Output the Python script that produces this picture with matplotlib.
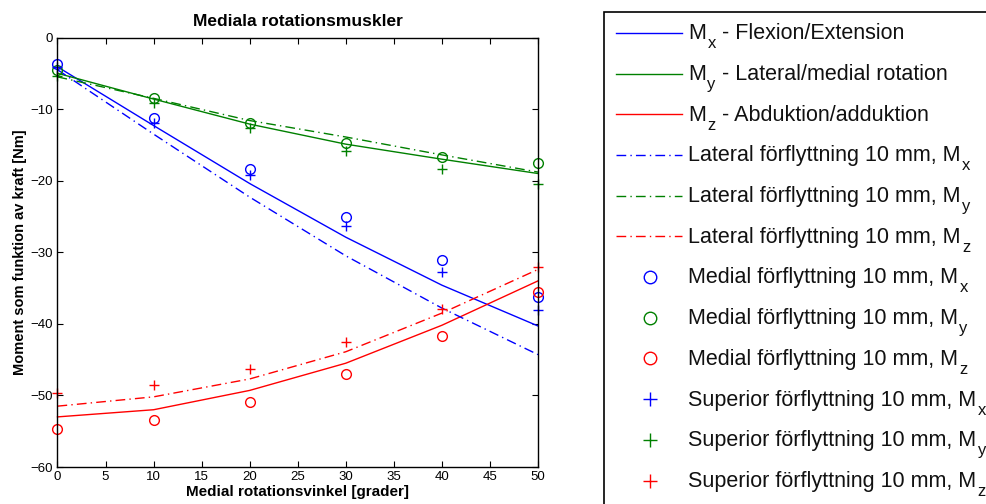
import matplotlib
matplotlib.use("Agg")
from matplotlib import pyplot as plt
from matplotlib.lines import Line2D
from matplotlib.patches import Rectangle

plt.rcParams['font.family'] = ['Liberation Sans', 'DejaVu Sans']

vinkel = [0, 10, 20, 30, 40, 50]

# basfall
mx = [-4.1, -12.3, -20.4, -27.9, -34.6, -40.3]
my = [-5.0, -8.6, -12.1, -14.9, -17.0, -19.0]
mz = [-53.0, -52.0, -49.3, -45.5, -40.2, -34.0]

# lateral förflyttning
lat_mx = [-4.5, -13.5, -22.3, -30.5, -37.8, -44.3]
lat_my = [-5.5, -8.5, -11.6, -13.9, -16.4, -18.8]
lat_mz = [-51.5, -50.2, -47.7, -43.9, -38.5, -32.4]

# medial förflyttning
med_mx = [-3.7, -11.3, -18.4, -25.1, -31.1, -36.2]
med_my = [-4.6, -8.4, -11.9, -14.7, -16.7, -17.5]
med_mz = [-54.7, -53.5, -50.9, -47.0, -41.7, -35.5]

# superior förflyttning
sup_mx = [-4.1, -11.9, -19.2, -26.4, -32.7, -38.0]
sup_my = [-5.4, -9.2, -12.6, -15.8, -18.4, -20.4]
sup_mz = [-49.7, -48.6, -46.3, -42.6, -37.9, -32.1]

# legend texts: (before subscript, subscript, after subscript)
labels = [
    ("M", "x", " - Flexion/Extension"),
    ("M", "y", " - Lateral/medial rotation"),
    ("M", "z", " - Abduktion/adduktion"),
    ("Lateral förflyttning 10 mm, M", "x", ""),
    ("Lateral förflyttning 10 mm, M", "y", ""),
    ("Lateral förflyttning 10 mm, M", "z", ""),
    ("Medial förflyttning 10 mm, M", "x", ""),
    ("Medial förflyttning 10 mm, M", "y", ""),
    ("Medial förflyttning 10 mm, M", "z", ""),
    ("Superior förflyttning 10 mm, M", "x", ""),
    ("Superior förflyttning 10 mm, M", "y", ""),
    ("Superior förflyttning 10 mm, M", "z", ""),
]

blue = "#0000ff"
green = "#008000"
red = "#ff0000"
dd = (7, 3, 1, 3)

W, H = 987, 504
fig = plt.figure(figsize=(W / 100, H / 100), dpi=100)
ax = fig.add_axes([57.5 / W, 1 - 467 / H, 480.5 / W, 429.5 / H])

h = []
h += ax.plot(vinkel, mx, color=blue, lw=1)
h += ax.plot(vinkel, my, color=green, lw=1)
h += ax.plot(vinkel, mz, color=red, lw=1)
h += ax.plot(vinkel, lat_mx, color=blue, lw=1, ls=(0, dd))
h += ax.plot(vinkel, lat_my, color=green, lw=1, ls=(0, dd))
h += ax.plot(vinkel, lat_mz, color=red, lw=1, ls=(0, dd))
h += ax.plot(vinkel, med_mx, "o", color=blue, mfc="none", ms=7, mew=1)
h += ax.plot(vinkel, med_my, "o", color=green, mfc="none", ms=7, mew=1)
h += ax.plot(vinkel, med_mz, "o", color=red, mfc="none", ms=7, mew=1)
h += ax.plot(vinkel, sup_mx, "+", color=blue, ms=6.5, mew=1)
h += ax.plot(vinkel, sup_my, "+", color=green, ms=6.5, mew=1)
h += ax.plot(vinkel, sup_mz, "+", color=red, ms=6.5, mew=1)

for line in h:
    line.set_clip_on(False)

ax.set_xlim(0, 50)
ax.set_ylim(-60, 0)
ax.set_xticks(range(0, 51, 5))
ax.set_yticks(range(-60, 1, 10))
ax.tick_params(direction="in", top=True, right=True, labelsize=9.5, length=4, pad=3)
for s in ax.spines.values():
    s.set_linewidth(1)

ax.set_title("Mediala rotationsmuskler", fontsize=12.5, fontweight="bold", pad=8)
ax.set_xlabel("Medial rotationsvinkel [grader]", fontsize=11, fontweight="bold", labelpad=1)
ax.set_ylabel("Moment som funktion av kraft [Nm]", fontsize=10.5, fontweight="bold", labelpad=3)

# legend drawn by hand, box runs past the figure edge like the original
def fx(px):
    return px / W

def fy(py):
    return 1 - py / H

tf = fig.transFigure
fig.patches.append(Rectangle((fx(603.5), fy(560)), fx(500), 548 / H, transform=tf,
                             fill=False, edgecolor="black", lw=1.2))

renderer = fig.canvas.get_renderer()
for k, (src, (pre, sub, post)) in enumerate(zip(h, labels)):
    base = 39.3 + 40.7 * k
    mid = base - 6.5
    mk = src.get_marker()
    if mk in ("o", "+"):
        fig.lines.append(Line2D([fx(650)], [fy(mid)], transform=tf, ls="none",
                                marker=mk, color=src.get_color(), mfc="none",
                                ms=9 if mk == "o" else 10.5, mew=1))
    else:
        ls = "-" if k < 3 else (0, dd)
        fig.lines.append(Line2D([fx(616), fx(682)], [fy(mid), fy(mid)], transform=tf,
                                color=src.get_color(), lw=1, ls=ls))
    t = fig.text(fx(688), fy(base), pre, fontsize=15.5, va="baseline", ha="left",
                 color="#111111")
    bb = t.get_window_extent(renderer)
    s = fig.text(bb.x1 / W + fx(1.5), fy(base + 9), sub, fontsize=12, va="baseline",
                 ha="left", color="#111111")
    if post:
        bs = s.get_window_extent(renderer)
        fig.text(bs.x1 / W, fy(base), post, fontsize=15.5, va="baseline", ha="left",
                 color="#111111")

fig.savefig("out.png", dpi=100)
